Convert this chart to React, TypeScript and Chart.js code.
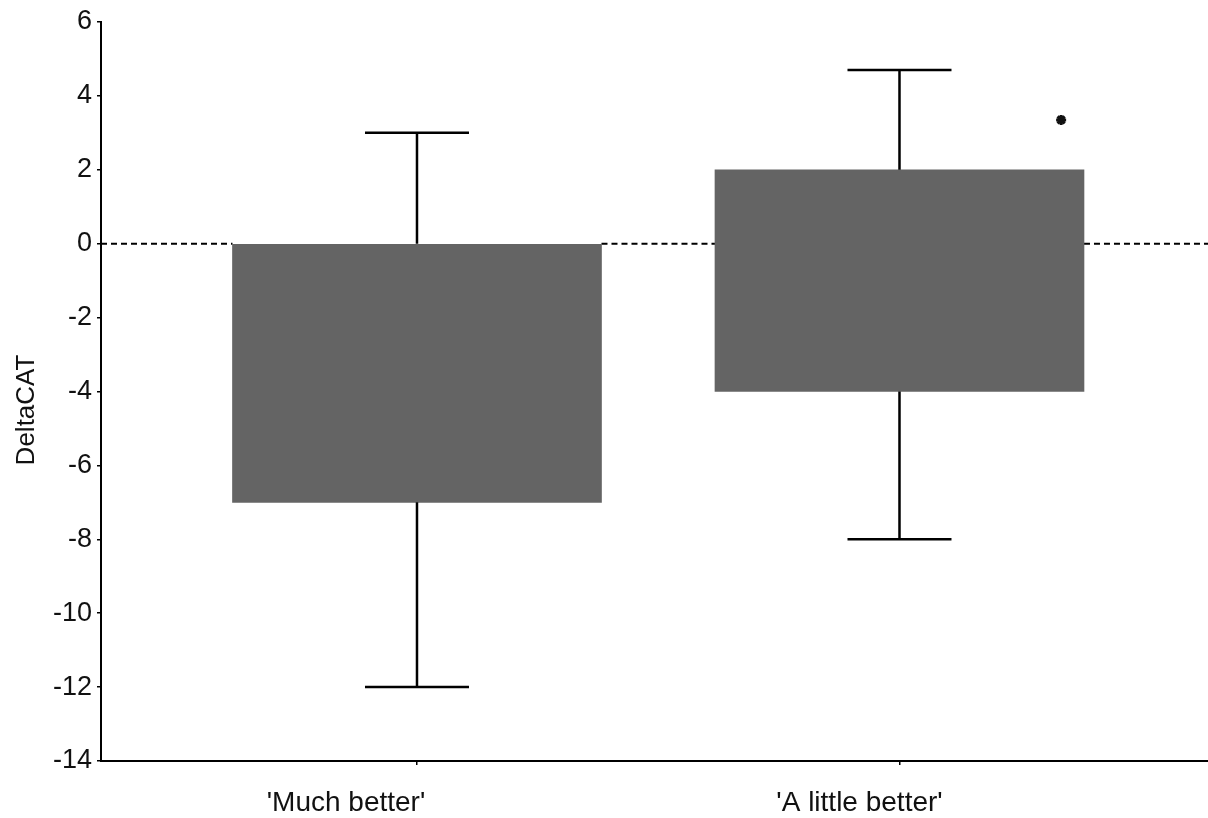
import React, { useEffect, useRef } from "react";
import { Chart, registerables } from "chart.js";

Chart.register(...registerables);

const categories = ["'Much better'", "'A little better'"];
const boxLow = [-7, -4];
const boxHigh = [0, 2];
const whiskerLow = [-12, -8];
const whiskerHigh = [3, 4.7];
const markerX = [1.335];
const markerY = [3.35];
const yTicks = [6, 4, 2, 0, -2, -4, -6, -8, -10, -12, -14];
const yTitle = "DeltaCAT";

const FONT = "'Liberation Sans', Arial, sans-serif";

export default function App() {
  const ref = useRef<HTMLCanvasElement | null>(null);

  useEffect(() => {
    if (!ref.current) return;

    const zeroLine = {
      id: "zeroLine",
      beforeDatasetsDraw(chart: any) {
        const { ctx, chartArea, scales } = chart;
        const y = scales.y.getPixelForValue(0);
        const bars = chart.getDatasetMeta(0).data.map((el: any) => [el.x - el.width / 2, el.x + el.width / 2]);
        const segs: number[][] = [];
        let start = chartArea.left;
        bars.sort((a: number[], b: number[]) => a[0] - b[0]).forEach((b: number[]) => {
          segs.push([start, b[0]]);
          start = b[1];
        });
        segs.push([start, chartArea.right]);
        ctx.save();
        ctx.strokeStyle = "#000";
        ctx.lineWidth = 2;
        ctx.setLineDash([6, 4]);
        segs.forEach(([a, b]) => {
          ctx.beginPath();
          ctx.moveTo(a, y);
          ctx.lineTo(b, y);
          ctx.stroke();
        });
        ctx.restore();
      },
    };

    const whiskers = {
      id: "whiskers",
      afterDatasetsDraw(chart: any) {
        const { ctx, scales } = chart;
        const capHalf = 52;
        ctx.save();
        ctx.strokeStyle = "#000";
        ctx.lineWidth = 2.5;
        categories.forEach((_, i) => {
          const x = scales.x.getPixelForValue(i);
          const yTop = scales.y.getPixelForValue(boxHigh[i]);
          const yHi = scales.y.getPixelForValue(whiskerHigh[i]);
          const yBot = scales.y.getPixelForValue(boxLow[i]);
          const yLo = scales.y.getPixelForValue(whiskerLow[i]);
          ctx.beginPath();
          ctx.moveTo(x, yTop);
          ctx.lineTo(x, yHi);
          ctx.moveTo(x - capHalf, yHi);
          ctx.lineTo(x + capHalf, yHi);
          ctx.moveTo(x, yBot);
          ctx.lineTo(x, yLo);
          ctx.moveTo(x - capHalf, yLo);
          ctx.lineTo(x + capHalf, yLo);
          ctx.stroke();
        });
        ctx.restore();
      },
    };

    const labelOffsets = [-71, -40];
    const texts = {
      id: "texts",
      afterDraw(chart: any) {
        const { ctx, scales } = chart;
        ctx.save();
        ctx.fillStyle = "#111";
        ctx.font = `28px ${FONT}`;
        ctx.textAlign = "center";
        ctx.textBaseline = "middle";
        categories.forEach((c, i) => {
          const x = scales.x.getPixelForValue(i) + labelOffsets[i];
          ctx.fillText(c, x, 803);
        });
        ctx.translate(27, 410);
        ctx.rotate(-Math.PI / 2);
        ctx.font = `26px ${FONT}`;
        ctx.fillText(yTitle, 0, 0);
        ctx.restore();
      },
    };

    const chart = new Chart(ref.current, {
      type: "bar",
      data: {
        datasets: [
          {
            type: "bar",
            data: categories.map((_, i) => ({ x: i, y: [boxLow[i], boxHigh[i]] })) as any,
            backgroundColor: "#646464",
            borderWidth: 0,
            barThickness: 369,
            xAxisID: "x",
            yAxisID: "y",
          } as any,
          {
            type: "scatter",
            data: markerX.map((x, i) => ({ x, y: markerY[i] })),
            pointStyle: "star",
            radius: 5,
            borderWidth: 3,
            borderColor: "#111",
            backgroundColor: "#111",
            xAxisID: "x",
            yAxisID: "y",
          } as any,
        ],
      },
      options: {
        responsive: false,
        animation: false,
        devicePixelRatio: 1,
        layout: { autoPadding: false, padding: { top: 22, right: 0, left: 0, bottom: 0 } },
        plugins: {
          legend: { display: false },
          tooltip: { enabled: false },
        },
        scales: {
          x: {
            type: "linear",
            offset: false,
            min: -0.6549,
            max: 1.6394,
            afterBuildTicks(scale: any) {
              scale.ticks = categories.map((_, i) => ({ value: i }));
            },
            afterFit(scale: any) {
              scale.height = 57;
            },
            ticks: {
              callback: () => "",
              padding: 0,
            },
            grid: {
              offset: false,
              drawOnChartArea: false,
              drawTicks: true,
              tickLength: 4,
              tickColor: "#000",
              lineWidth: 1.5,
            },
            border: { display: true, color: "#000", width: 2 },
          },
          y: {
            type: "linear",
            min: -14,
            max: 6,
            afterBuildTicks(scale: any) {
              scale.ticks = yTicks.map((v) => ({ value: v }));
            },
            afterFit(scale: any) {
              scale.width = 101;
            },
            ticks: {
              color: "#111",
              font: { family: FONT, size: 27 },
              padding: 5,
            },
            grid: {
              drawOnChartArea: false,
              drawTicks: true,
              tickLength: 4,
              tickColor: "#000",
              lineWidth: 1.5,
            },
            border: { display: true, color: "#000", width: 2 },
          },
        },
      },
      plugins: [zeroLine, whiskers, texts],
    });

    return () => chart.destroy();
  }, []);

  return (
    <div style={{ position: "absolute", left: 0, top: 0, width: 1208, height: 818, background: "#fff" }}>
      <canvas ref={ref} width={1208} height={818} style={{ display: "block" }} />
    </div>
  );
}
